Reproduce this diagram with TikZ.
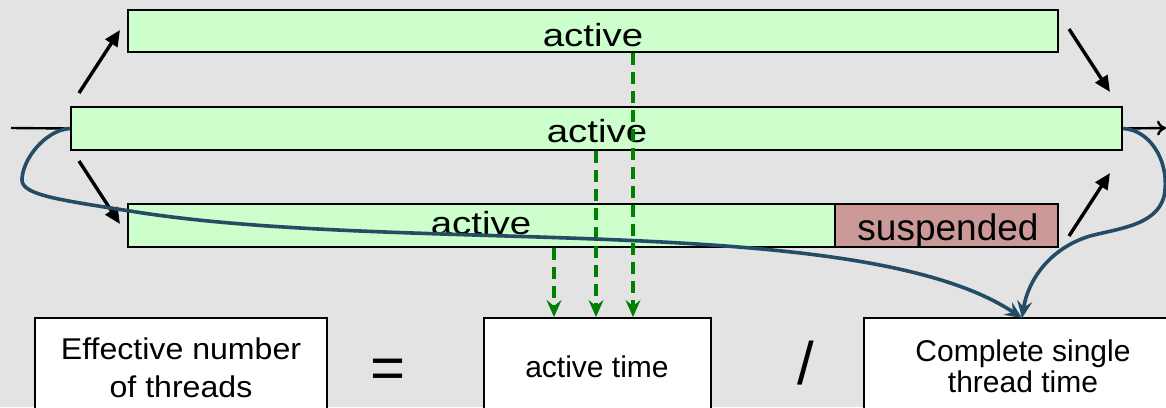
\documentclass[tikz,border=0pt]{standalone}
\usepackage{fontspec}
\setmainfont{Liberation Sans}
\newfontfamily\widefont[FakeStretch=1.2]{Liberation Sans}
\newfontfamily\boxfont[FakeStretch=1.07]{Liberation Sans}
\usetikzlibrary{arrows.meta}
\definecolor{bg}{HTML}{E3E3E3}
\definecolor{actgreen}{HTML}{CCFFCC}
\definecolor{susp}{HTML}{CC9999}
\definecolor{dgreen}{HTML}{008000}
\definecolor{curveblue}{HTML}{244C66}
\begin{document}
\begin{tikzpicture}[x=1pt,y=-1pt,
  bar/.style={draw=black, line width=2.2pt, fill=actgreen, inner sep=0pt, minimum height=42pt},
  suspbar/.style={bar, fill=susp},
  bartext/.style={font=\widefont\fontsize{32}{32}\selectfont, inner sep=0pt, anchor=base},
  susptext/.style={font=\fontsize{37}{37}\selectfont, inner sep=0pt, anchor=base},
  resbox/.style={draw=black, line width=2pt, fill=white, inner sep=0pt, minimum height=120pt},
  boxtext/.style={font=\fontsize{30}{30}\selectfont, inner sep=0pt, anchor=base, align=center},
  optext/.style={font=\fontsize{60}{60}\selectfont, inner sep=0pt, anchor=base},
  flow/.style={draw=black, line width=3.4pt, -{Triangle[length=16pt,width=14pt]}},
  measure/.style={draw=dgreen, line width=3.4pt, dash pattern=on 12pt off 7pt, -{Stealth[length=17pt,width=15pt,inset=6pt]}},
  total/.style={draw=curveblue, line width=3.6pt, -{Stealth[length=17pt,width=15pt,inset=6pt]}}
]
\useasboundingbox (0,0) rectangle (1166,407);
\clip (0,0) rectangle (1166,407);
\fill[bg] (0,0) rectangle (1166,407);

% bars
\node[bar, minimum width=930pt] (top) at (593,31) {};
\node[bar, minimum width=1051pt, minimum height=43pt] (mid) at (596.5,128.5) {};
\node[bar, minimum width=707pt, minimum height=43pt] (bot) at (481.5,225.5) {};
\node[suspbar, minimum width=223pt, minimum height=43pt] (susp) at (946.5,225.5) {};

\node[bartext] (ttop) at (593,46) {active};
\node[bartext] (tmid) at (597,142) {active};
\node[bartext] (tbot) at (481,234) {active};
\node[susptext] (tsusp) at (948,240) {suspended};

% result boxes
\node[resbox, minimum width=292pt] (eff) at (181,378) {};
\node[resbox, minimum width=227pt] (act) at (597.5,378) {};
\node[resbox, minimum width=318pt] (single) at (1023,378) {};

\node[boxtext, font=\boxfont\fontsize{30}{38}\selectfont] (teff) at (181,397) {Effective number\\of threads};
\node[boxtext] (tact) at (597,377) {active time};
\node[boxtext, font=\fontsize{30}{31}\selectfont] (tsingle) at (1023,392) {Complete single\\thread time};

\node[optext] (eq) at (388,388) {=};
\node[optext] (div) at (806,384) {/};

% in / out lines
\coordinate (in) at (11,128);
\coordinate (out) at (1166,128);
\draw[line width=2.4pt] (in) -- (mid.west);
\draw[line width=2.4pt, -{To[length=9pt,width=15pt]}] (mid.east) -- (out);

% fork / join arrows
\coordinate (f1s) at (79,93);   \coordinate (f1e) at (120,30);
\coordinate (f2s) at (79,161);  \coordinate (f2e) at (120,224);
\coordinate (j1s) at (1069,29); \coordinate (j1e) at (1110,92);
\coordinate (j2s) at (1069,236);\coordinate (j2e) at (1110,173);
\draw[flow] (f1s) -- (f1e);
\draw[flow] (f2s) -- (f2e);
\draw[flow] (j1s) -- (j1e);
\draw[flow] (j2s) -- (j2e);

% measurement arrows
\coordinate (g1) at (633,0);
\coordinate (g2) at (596,0);
\coordinate (g3) at (554,0);
\draw[measure] (top.south -| g1) -- (act.north -| g1);
\draw[measure] (mid.south -| g2) -- (act.north -| g2);
\draw[measure] (bot.south -| g3) -- (act.north -| g3);

% total time curves
\coordinate (tip) at (1022,318);
\draw[total] (mid.west) .. controls (45,130) and (22,160) .. (22,180)
  .. controls (22,195) and (60,200) .. (130,211)
  .. controls (400,255) and (860,210) .. (tip);
\draw[total] (mid.east) .. controls (1150,130) and (1168,160) .. (1165,190)
  .. controls (1162,225) and (1120,228) .. (1090,236)
  .. controls (1050,248) and (1028,280) .. (tip);
\end{tikzpicture}
\end{document}
